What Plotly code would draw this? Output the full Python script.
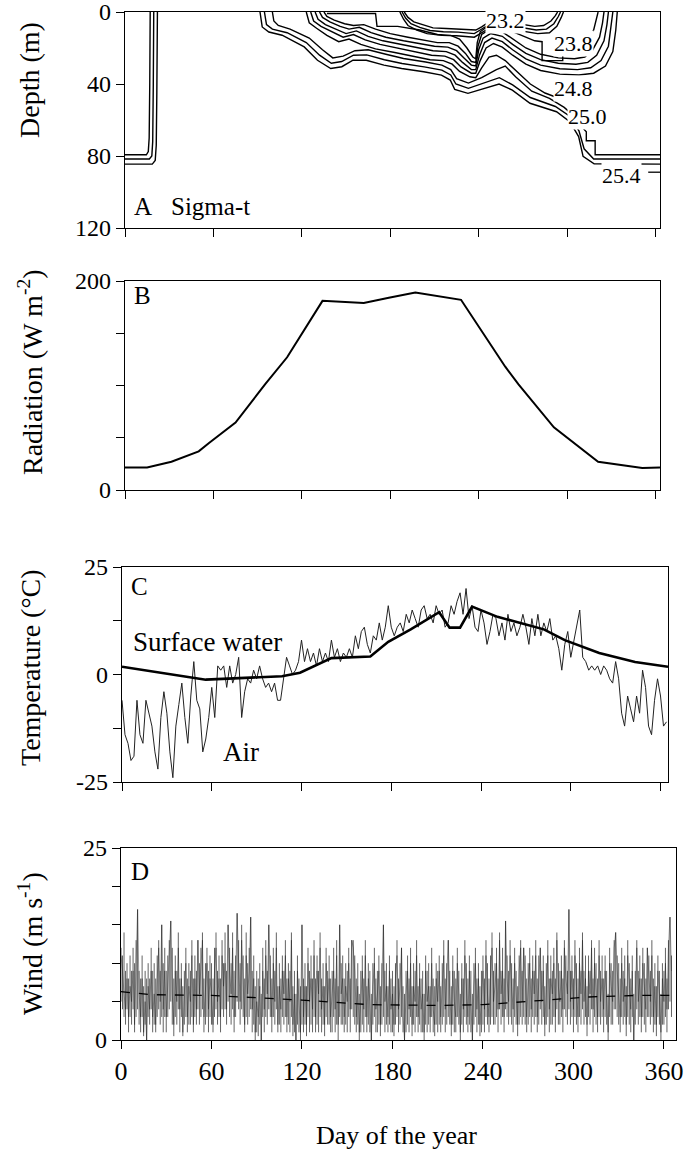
import plotly.graph_objects as go

SERIF = "Liberation Serif, Times New Roman, serif"
W, H = 688, 1162

# ---------------- Panel A: sigma-t isopycnals (day, depth) ----------------
sigma_25_4_winter = [(0, 84.5), (18.5, 84.5), (20.5, 82.5), (21.2, 74), (21.6, 45), (22, 0)]
sigma_25_2_winter = [(0, 81.7), (16.5, 81.7), (18.2, 80), (18.8, 72), (19.2, 40), (19.5, 0)]
sigma_25_0_winter = [(0, 79.3), (14.5, 79.3), (15.8, 77.5), (16.4, 70), (16.8, 40), (17.1, 0)]

sigma_25_4 = [(91.6, 0), (93.1, 8.3), (97.6, 11.1), (106.6, 12.9), (121.6, 19.4), (130.6, 26.8),
              (139.6, 31.4), (147.1, 30.4), (154.7, 26.8), (163.7, 26.8), (175.7, 29.5), (187.7, 31.4),
              (202.7, 33.2), (214.7, 35.1), (220.7, 37.8), (223.7, 43), (232.7, 45.2), (241.7, 43),
              (253.8, 40), (262.8, 43.4), (274.8, 50.7), (292.8, 55.4), (301.8, 60.9), (307.8, 69.2),
              (310.8, 80.2), (318.3, 84.3), (334.8, 84.5), (363, 84.5)]
sigma_25_2 = [(94.6, 0), (96, 7), (100, 9.5), (110, 11.5), (123, 17), (132, 24), (140, 28.5),
              (147, 27.5), (155, 24), (164, 23.8), (176, 26.5), (188, 28.6), (203, 30.5), (215, 32.3),
              (221, 35), (224.5, 40), (233, 42.4), (242, 40), (254, 36.5), (263, 40.5), (275, 47.5),
              (292, 52.5), (302, 58), (308, 66), (311.5, 76), (318, 81.7), (335, 81.7), (363, 81.7)]
sigma_25_0 = [(100, 0), (101, 5), (104, 7.5), (112, 9.5), (125, 14.5), (134, 21), (141, 25.5),
              (148, 24.5), (156, 21.5), (165, 21), (177, 23.5), (189, 25.8), (204, 27.8), (215, 29.5),
              (221, 32), (225, 37), (233, 39.5), (242, 36.5), (252, 32), (258, 30), (265, 36),
              (276, 44), (288, 48), (298, 53), (305, 58), (309, 63), (313, 66.5), (313, 71.5),
              (319, 71.5), (319, 79.3), (363, 79.3)]
sigma_24_8 = [(123, 0), (125, 6), (130, 9), (137, 13), (145, 16.5), (152, 15), (160, 18), (170, 20.5),
              (183, 22.5), (195, 24.5), (207, 26.5), (216, 27), (222, 29), (227, 33), (234, 36),
              (238, 36.5), (242, 31), (247, 25), (252, 24), (258, 27), (266, 33), (275, 40),
              (285, 45), (293, 47.5), (305, 48.5)]
sigma_24_6 = [(126, 0), (128, 5), (133, 8), (140, 11), (148, 14), (155, 12.5), (163, 15.5), (173, 18),
              (185, 20), (197, 22), (208, 24), (217, 24.5), (223, 26.5), (228, 30.5), (235, 34),
              (238, 34), (241, 27), (245, 20), (250, 17.5), (256, 19.5), (263, 24), (272, 29),
              (282, 32.5), (295, 34.5), (308, 35), (318, 34), (326, 30), (331, 22), (333, 10), (334, 0)]
sigma_24_4 = [(129, 0), (131, 4), (136, 7), (143, 9.5), (150, 12), (157, 10.5), (165, 13.5), (175, 16),
              (187, 18), (199, 20), (209, 21.5), (218, 22), (224, 24), (229, 28), (235, 32), (238, 32),
              (240.5, 24), (244, 17), (249, 14.5), (256, 16.5), (263, 21), (272, 26), (282, 29.5),
              (295, 31.5), (307, 32), (316, 31), (323, 27), (328, 19), (330, 8), (331, 0)]
sigma_24_2 = [(132, 0), (134, 3), (139, 5.5), (146, 8), (152, 9.5), (159, 8.5), (167, 11.5), (177, 14),
              (189, 16), (200, 17.5), (210, 19), (219, 19.5), (225, 21.5), (230, 25.5), (235, 29.5),
              (238, 30), (240, 21), (243, 14.5), (248, 12), (256, 13.5), (263, 18), (272, 23),
              (282, 26.5), (294, 28.5), (306, 29), (314, 28), (320, 24), (325, 16), (327, 7), (328, 0)]
sigma_24_0 = [(135, 0), (137, 2.5), (142, 4.5), (149, 6.5), (155, 7.5), (162, 7), (170, 9.5), (180, 12),
              (192, 14), (203, 15.5), (212, 17), (220, 17), (226, 19), (231, 23), (235, 27.5), (238, 28),
              (239.5, 19), (242, 12.5), (247, 10), (256, 11), (263, 15), (272, 20), (282, 23.5),
              (294, 25.5), (305, 26), (312, 25), (317, 21.5), (322, 14), (324, 6), (325, 0)]
sigma_23_8 = [(137, 0.8), (170, 0.8), (171, 8), (185, 8), (200, 10), (212, 12.5), (221, 13), (227, 15),
              (232, 20), (236, 25), (238, 26), (239, 17), (241, 11), (246, 8), (256, 8.5), (266, 12),
              (278, 16), (283, 16.5), (283, 27), (297, 27), (297, 17), (312, 16), (318, 10), (321, 0)]
sigma_23_6 = [(186.5, 0), (189, 4), (192, 7.5), (198, 10), (205, 12), (215, 13), (225, 13.2), (232, 13.5),
              (237, 14), (241, 12), (246, 9.5), (256, 8.8), (268, 10.5), (280, 12), (288, 11.5),
              (293, 8), (296, 3), (297.5, 0)]
sigma_23_4 = [(188, 0), (190.5, 3.5), (194, 6.5), (200, 8.5), (207, 10.3), (216, 11), (226, 11.2),
              (233, 11.5), (237, 12), (241, 10), (246, 7.5), (256, 6.8), (267, 8.5), (279, 10),
              (286, 9.5), (291, 6.5), (294, 2.5), (295.5, 0)]
sigma_23_2 = [(189.5, 0), (192, 3), (196, 5.5), (202, 7), (209, 8.8), (218, 9.2), (228, 9.5), (234, 9.7),
              (238, 10), (242, 8.3), (247, 5.5), (252, 4.8), (258, 4.8), (267, 6.5), (278, 8), (284, 7.5),
              (289, 5), (292, 2), (293.5, 0)]

contour_labels = ["23.2", "23.8", "24.8", "25.0", "25.4"]
contour_label_day = [258, 304, 304, 314, 337]
contour_label_depth = [4.5, 17.5, 42.5, 58, 91]
label_leader_day = [355, 363]
label_leader_depth = [89, 89]

# ---------------- Panel B: radiation ----------------
rad_day = [0, 15, 31.5, 50, 57, 75, 95, 110, 134, 162, 179, 197, 228, 242, 258, 267, 291, 321, 351, 363]
rad_val = [21.6, 21.6, 27, 37, 45, 64.5, 101, 127, 181, 179, 184, 189, 182, 152, 118, 101, 60, 27, 21, 21.6]

# ---------------- Panel C: temperature ----------------
water_day = [0, 56, 107, 119, 140, 155, 166, 178, 193, 212, 219, 226, 234, 251, 282, 296, 319, 343, 365]
water_temp = [1.8, -1.2, -0.4, 0.4, 3.8, 4.0, 4.2, 7.6, 10.5, 14.5, 10.9, 10.9, 15.8, 13.4, 10.5, 8.0, 5.0, 2.9, 1.8]

air_temp = [  # every 2 days from day 0
    -6, -14, -16, -20, -19, -6, -14, -16, -6, -9, -12, -18, -22, -10, -4, -9, -18, -24, -12, -7,
    -2, -10, -16, -5, 3, -6, -8, -18, -15, -10, -3, -10, 2, 1, 2, -3, 2, -2, 0, 4,
    -10, -4, -1, -2, 1, -1, 2, -1, -3, -2, -4, -2, -6, -6, -1, 4, 2, 0, 1, 3,
    8, 3, 6, 3, 5, 2, 6, 3, 5, 3, 8, 4, 6, 3, 5, 4, 6, 4, 9, 6,
    10, 11, 7, 5, 9, 8, 12, 8, 11, 16, 11, 9, 11, 12, 10, 14, 12, 15, 13, 11,
    15, 16, 13, 14, 12, 16, 14, 15, 11, 12, 16, 14, 17, 19, 14, 20, 13, 16, 11, 10,
    15, 12, 7, 10, 14, 13, 9, 12, 8, 14, 10, 12, 9, 11, 14, 11, 7, 13, 9, 14,
    9, 12, 10, 13, 8, 9, 6, 1, 7, 10, 4, 8, 12, 15, 4, 3, 1, 2, 1, 2,
    0, 2, 1, -1, -2, 3, -1, -9, -12, -5, -8, -11, -5, -9, 1, -3, -12, -14, -6, -1,
    -5, -12, -11]
air_step = 2

# ---------------- Panel D: wind ----------------
wind_speed = [
    11, 9, 6, 4, 8, 3, 7, 5, 9, 2, 10, 17, 6, 3, 8, 1, 5, 0, 7, 4, 9, 3, 6, 2, 8, 12, 5, 15, 4, 9,
    3, 7, 11, 15.5, 6, 2, 9, 5, 12, 4, 8, 1, 6, 10, 3, 7, 5, 11, 2, 8, 4, 13, 6, 9, 13, 3, 7, 10, 4, 8,
    6, 2, 9, 12, 5, 8, 3, 11, 7, 10, 4, 15, 9, 6, 12, 3, 8, 16.5, 10, 5, 13, 7, 2, 11, 6, 9, 16, 4, 8, 1,
    5, 3, 7, 0, 9, 4, 11, 6, 15, 8, 3, 10, 5, 12, 2, 7, 4, 9, 6, 11, 3, 8, 5, 13, 2, 6, 0, 9, 4, 1,
    15, 3, 7, 2, 10, 5, 8, 4, 11, 3, 9, 6, 12, 4, 7, 2, 10, 5, 8, 3, 6, 9, 4, 11, 2, 15, 6, 8, 3, 7,
    5, 10, 4, 13, 12, 9, 3, 7, 1, 6, 9, 4, 11, 3, 8, 5, 0, 7, 10, 4, 6, 9, 2, 8, 15, 5, 7, 3, 9, 4,
    6, 2, 8, 11, 4, 7, 12, 3, 0, 6, 9, 4, 10, 2, 7, 5, 11, 3, 8, 4, 6, 1, 9, 5, 7, 3, 10, 4, 2, 8,
    5, 9, 3, 7, 11, 4, 8, 13, 6, 2, 9, 5, 3, 10, 6, 1, 8, 4, 11, 7, 3, 9, 5, 0, 7, 10, 4, 8, 2, 6,
    9, 4, 11, 6, 3, 8, 12, 5, 7, 10, 4, 13, 6, 9, 3, 15.5, 8, 5, 11, 7, 4, 10, 6, 2, 9, 12, 5, 12, 8, 3,
    7, 10, 4, 9, 6, 11, 3, 8, 12, 5, 9, 2, 7, 11, 4, 8, 6, 10, 3, 13, 7, 5, 9, 4, 12, 8, 6, 17, 5, 9,
    4, 11, 7, 3, 10, 6, 13, 5, 8, 2, 9, 6, 12, 4, 10, 7, 3, 11, 5, 8, 4, 9, 6, 1, 10, 7, 5, 12, 14, 9,
    6, 3, 10, 5, 8, 2, 11, 7, 4, 9, 0, 6, 12, 5, 8, 3, 10, 7, 4, 12, 9, 5, 11, 3, 7, 2, 9, 6, 1, 8,
    5, 10, 4, 12, 16, 9]
wind_daily_high = [
    12, 11, 14, 9, 10, 8, 11, 9, 12, 10, 13, 17, 9, 8, 11, 7, 9, 8, 10, 8, 12, 9, 10, 8, 11, 13, 9, 15, 10, 12,
    9, 11, 13, 15.5, 12, 8, 11, 9, 14, 8, 10, 7, 9, 12, 8, 10, 9, 13, 8, 11, 9, 13, 10, 12, 14, 8, 10, 12, 9, 11,
    10, 8, 12, 14, 9, 11, 8, 13, 10, 14, 9, 15, 12, 10, 14, 9, 11, 16.5, 13, 10, 15, 11, 8, 14, 10, 12, 16, 9, 11, 7,
    9, 8, 10, 6, 12, 8, 13, 9, 15, 11, 8, 12, 9, 14, 7, 10, 8, 11, 9, 13, 8, 10, 9, 14, 7, 9, 6, 11, 8, 7,
    15, 8, 10, 7, 12, 9, 11, 8, 13, 8, 11, 9, 14, 8, 10, 7, 12, 9, 11, 8, 9, 12, 8, 13, 7, 15, 10, 11, 8, 10,
    9, 12, 8, 13, 13, 11, 8, 10, 6, 9, 11, 8, 13, 7, 10, 9, 6, 10, 12, 8, 9, 11, 7, 10, 15, 9, 10, 7, 11, 8,
    9, 7, 10, 13, 8, 10, 12, 7, 6, 9, 11, 8, 12, 7, 10, 9, 13, 7, 10, 8, 9, 6, 11, 9, 10, 7, 12, 8, 7, 10,
    9, 11, 7, 10, 13, 8, 10, 13, 9, 7, 11, 9, 8, 12, 9, 6, 10, 8, 13, 10, 8, 11, 9, 6, 10, 12, 8, 10, 7, 9,
    11, 8, 13, 10, 8, 11, 14, 9, 10, 12, 8, 14, 9, 12, 8, 15.5, 11, 9, 13, 10, 8, 12, 9, 7, 11, 13, 9, 12, 11, 8,
    10, 12, 8, 11, 9, 13, 8, 11, 12, 9, 11, 7, 10, 13, 8, 11, 9, 12, 8, 14, 10, 9, 11, 8, 13, 11, 9, 17, 9, 11,
    8, 13, 10, 8, 12, 9, 14, 9, 11, 7, 11, 9, 13, 8, 12, 10, 8, 13, 9, 11, 8, 11, 9, 6, 12, 10, 9, 13, 14, 11,
    10, 8, 12, 9, 11, 7, 13, 10, 8, 11, 6, 9, 13, 9, 11, 8, 12, 10, 8, 12, 11, 9, 13, 8, 10, 7, 11, 9, 6, 10,
    9, 12, 8, 13, 16, 11]
wind_daily_low = [
    5, 4, 3, 2, 4, 1, 3, 2, 4, 1, 3, 4, 2, 1, 3, 0.5, 2, 0, 3, 2, 4, 1, 2, 1, 3, 4, 2, 3, 1, 3,
    1, 3, 4, 5, 2, 0.5, 3, 2, 4, 1, 3, 0.5, 2, 3, 1, 2, 2, 3, 1, 3, 2, 4, 2, 3, 4, 1, 2, 3, 1, 3,
    2, 1, 3, 4, 2, 3, 1, 4, 3, 4, 2, 5, 3, 2, 4, 1, 3, 5, 4, 2, 4, 3, 1, 3, 2, 3, 4, 1, 2, 0,
    1, 0.5, 2, 0, 3, 1, 3, 2, 4, 3, 1, 3, 2, 4, 1, 2, 1, 3, 2, 3, 1, 2, 1, 3, 0.5, 1, 0, 2, 1, 0,
    2, 1, 2, 0.5, 3, 1, 2, 1, 3, 1, 2, 1, 3, 1, 2, 0.5, 3, 2, 2, 1, 1, 3, 1, 2, 0, 3, 2, 2, 1, 2,
    1, 3, 1, 4, 3, 2, 1, 2, 0, 1, 2, 1, 3, 1, 2, 1, 0, 2, 3, 1, 1, 2, 0.5, 2, 3, 1, 2, 1, 2, 1,
    1, 0.5, 2, 3, 1, 2, 3, 1, 0, 1, 2, 1, 3, 0.5, 2, 1, 3, 1, 2, 1, 1, 0, 2, 1, 2, 1, 3, 1, 0.5, 2,
    1, 2, 1, 2, 3, 1, 2, 3, 2, 0.5, 2, 1, 1, 3, 2, 0, 2, 1, 3, 2, 1, 2, 1, 0, 2, 3, 1, 2, 0.5, 1,
    2, 1, 3, 2, 1, 2, 3, 2, 2, 3, 1, 4, 2, 3, 1, 4, 3, 2, 3, 2, 1, 3, 2, 0.5, 2, 3, 2, 3, 2, 1,
    2, 3, 1, 3, 2, 3, 1, 2, 4, 2, 3, 0.5, 2, 3, 1, 2, 2, 3, 1, 4, 2, 2, 3, 1, 4, 3, 2, 4, 2, 3,
    1, 3, 2, 1, 3, 2, 4, 2, 3, 0.5, 3, 2, 4, 1, 3, 2, 1, 3, 2, 3, 1, 3, 2, 0, 3, 2, 2, 4, 4, 3,
    2, 1, 3, 2, 3, 0.5, 3, 2, 1, 3, 0, 2, 4, 2, 3, 1, 3, 2, 1, 3, 3, 2, 3, 1, 2, 0.5, 3, 2, 0, 2,
    2, 3, 1, 4, 5, 3]
wind_mean_day = [0, 20, 60, 120, 165, 210, 240, 270, 310, 340, 368]
wind_mean_val = [6.3, 5.9, 5.8, 5.2, 4.6, 4.5, 4.6, 5.0, 5.6, 5.8, 5.8]

day_ticks = [0, 60, 120, 180, 240, 300, 360]

# ---------------- build figure ----------------
fig = go.Figure()

contours = [sigma_25_4_winter, sigma_25_2_winter, sigma_25_0_winter, sigma_25_4, sigma_25_2, sigma_25_0,
            sigma_24_8, sigma_24_6, sigma_24_4, sigma_24_2, sigma_24_0, sigma_23_8, sigma_23_6,
            sigma_23_4, sigma_23_2]
for c in contours:
    fig.add_trace(go.Scatter(x=[p[0] for p in c], y=[p[1] for p in c], mode="lines",
                             line=dict(color="black", width=1.4),
                             xaxis="x", yaxis="y", showlegend=False, hoverinfo="skip"))
fig.add_trace(go.Scatter(x=label_leader_day, y=label_leader_depth, mode="lines",
                         line=dict(color="black", width=1.3), xaxis="x", yaxis="y", showlegend=False))

fig.add_trace(go.Scatter(x=rad_day, y=rad_val, mode="lines", line=dict(color="black", width=2),
                         xaxis="x2", yaxis="y2", showlegend=False))

air_day = [i * air_step for i in range(len(air_temp))]
fig.add_trace(go.Scatter(x=air_day, y=air_temp, mode="lines", line=dict(color="#222", width=1),
                         xaxis="x3", yaxis="y3", showlegend=False))
fig.add_trace(go.Scatter(x=water_day, y=water_temp, mode="lines", line=dict(color="black", width=2.6),
                         xaxis="x3", yaxis="y3", showlegend=False))

# daily range of wind as vertical strokes
seg_x, seg_y = [], []
for d, (lo, hi) in enumerate(zip(wind_daily_low, wind_daily_high)):
    seg_x += [d, d, None]
    seg_y += [lo, hi, None]
fig.add_trace(go.Scatter(x=seg_x, y=seg_y, mode="lines", line=dict(color="rgba(50,50,50,0.85)", width=0.9),
                         xaxis="x4", yaxis="y4", showlegend=False, hoverinfo="skip"))
fig.add_trace(go.Scatter(x=list(range(len(wind_speed))), y=wind_speed, mode="lines",
                         line=dict(color="rgba(30,30,30,0.7)", width=0.6),
                         xaxis="x4", yaxis="y4", showlegend=False))
fig.add_trace(go.Scatter(x=wind_mean_day, y=wind_mean_val, mode="lines",
                         line=dict(color="black", width=1.3, dash="dash"),
                         xaxis="x4", yaxis="y4", showlegend=False))


def ax(**kw):
    d = dict(showline=True, linecolor="black", linewidth=1.3, mirror=True, ticks="outside",
             ticklen=8, tickwidth=1.3, tickcolor="black", showgrid=False, zeroline=False,
             ticklabeloverflow="allow",
             tickfont=dict(family=SERIF, size=24, color="black"))
    d.update(kw)
    return d


def py(px):   # pixel from top -> paper fraction
    return 1 - px / H


def pxx(px):  # pixel from left -> paper fraction
    return px / W


fig.update_layout(
    width=W, height=H, margin=dict(l=0, r=0, t=0, b=0, autoexpand=False),
    paper_bgcolor="white", plot_bgcolor="white",
    xaxis=ax(domain=[pxx(125), pxx(660)], range=[0, 363], tickvals=day_ticks, showticklabels=False, anchor="y"),
    yaxis=ax(domain=[py(228), py(12)], range=[120, 0], tickvals=[0, 40, 80, 120], anchor="x"),
    xaxis2=ax(domain=[pxx(125), pxx(660)], range=[0, 363], tickvals=day_ticks, showticklabels=False, anchor="y2"),
    yaxis2=ax(domain=[py(490), py(281)], range=[0, 200], tickvals=[0, 50, 100, 150, 200],
              ticktext=["0", "", "", "", "200"], anchor="x2"),
    xaxis3=ax(domain=[pxx(122), pxx(668)], range=[0, 365], tickvals=day_ticks, showticklabels=False, anchor="y3"),
    yaxis3=ax(domain=[py(782), py(567)], range=[-25, 25], tickvals=[-25, -12.5, 0, 12.5, 25],
              ticktext=["-25", "", "0", "", "25"], anchor="x3"),
    xaxis4=ax(domain=[pxx(121), pxx(676)], range=[0, 368], tickvals=day_ticks, anchor="y4",
              tickfont=dict(family=SERIF, size=26, color="black")),
    yaxis4=ax(domain=[py(1040), py(848)], range=[0, 25], tickvals=[0, 5, 10, 15, 20, 25],
              ticktext=["0", "", "", "", "", "25"], anchor="x4"),
)

ann = []
for t, d, z in zip(contour_labels, contour_label_day, contour_label_depth):
    ann.append(dict(x=d, y=z, xref="x", yref="y", text=t, showarrow=False,
                    xanchor="center", yanchor="middle",
                    font=dict(family=SERIF, size=22, color="black"), bgcolor="white", borderpad=0))


def txt(x, y, xr, yr, t, size=25):
    return dict(x=x, y=y, xref=xr, yref=yr, text=t, showarrow=False, xanchor="left", yanchor="middle",
                font=dict(family=SERIF, size=size, color="black"))


ann += [
    txt(5, 108, "x", "y", "A", 25), txt(30, 108, "x", "y", "Sigma-t", 25),
    txt(5, 186, "x2", "y2", "B", 25),
    txt(5, 20.5, "x3", "y3", "C", 25),
    txt(6, 7.5, "x3", "y3", "Surface water", 27),
    txt(66, -18, "x3", "y3", "Air", 27),
    txt(5, 22, "x4", "y4", "D", 25),
]
for yc, t in [(80, "Depth (m)"), (372, "Radiation (W m<sup>-2</sup>)"),
              (668, "Temperature (°C)"), (944, "Wind (m s<sup>-1</sup>)")]:
    ann.append(dict(x=pxx(30), y=py(yc), xref="paper", yref="paper", text=t, textangle=-90,
                    xanchor="center", yanchor="middle", showarrow=False,
                    font=dict(family=SERIF, size=28, color="black")))
ann.append(dict(x=pxx(396), y=py(1135), xref="paper", yref="paper", text="Day of the year",
                xanchor="center", yanchor="middle", showarrow=False,
                font=dict(family=SERIF, size=26, color="black")))
fig.update_layout(annotations=ann)

# remove the page's default body margin so the figure sits at the window origin
fig.write_html("out.html", config={"displayModeBar": False},
               post_script="document.body.style.margin='0';document.body.style.overflow='hidden';")
